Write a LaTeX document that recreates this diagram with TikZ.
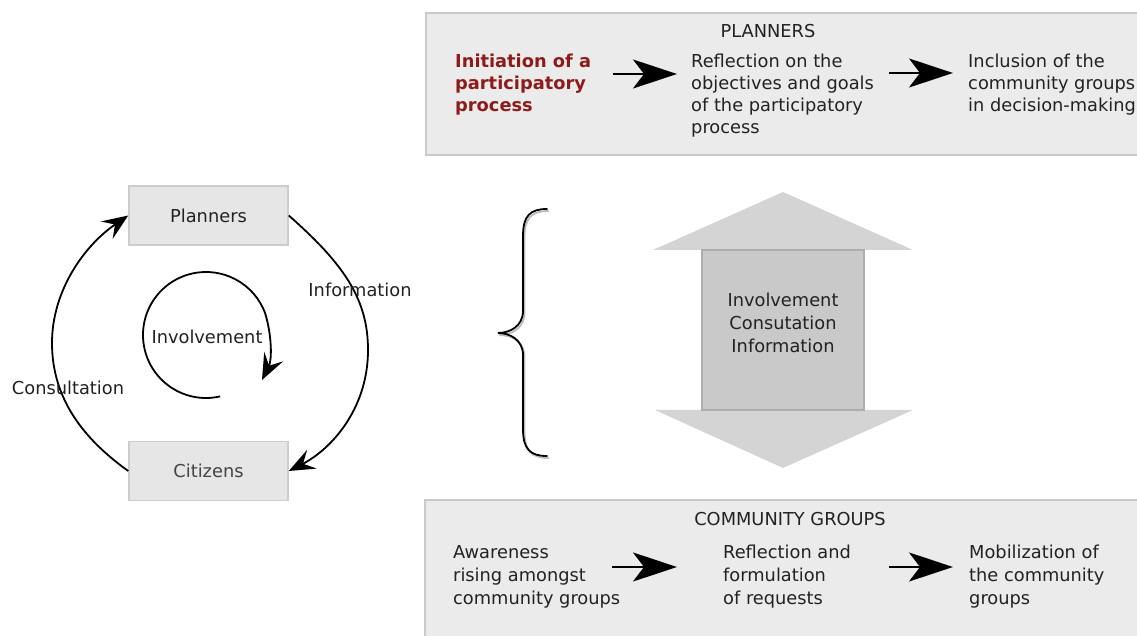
\documentclass[tikz,border=0pt]{standalone}
\usepackage{fontspec}
\setmainfont{DejaVu Sans}
\usetikzlibrary{arrows.meta}
\definecolor{panelfill}{HTML}{EBEBEB}
\definecolor{panelline}{HTML}{C9C9C9}
\definecolor{boxfill}{HTML}{E6E6E6}
\definecolor{boxline}{HTML}{CDCDCD}
\definecolor{txt}{HTML}{222222}
\definecolor{redtxt}{HTML}{8E1B1B}
\definecolor{trifill}{HTML}{D4D4D4}
\definecolor{midfill}{HTML}{C9C9C9}
\definecolor{midline}{HTML}{ADADAD}
\definecolor{shadow}{HTML}{BDBDBD}
\begin{document}
\begin{tikzpicture}[x=1pt,y=1pt,
  every node/.style={inner sep=0pt, text=txt, font=\fontsize{17.8}{22}\selectfont},
  toplines/.style={align=left, anchor=base west, font=\fontsize{17.8}{22}\selectfont},
  botlines/.style={align=left, anchor=base west, font=\fontsize{17.8}{23}\selectfont},
  panel/.style={fill=panelfill, draw=panelline, line width=2pt},
  cbox/.style={fill=boxfill, draw=boxline, line width=1.5pt, minimum width=159pt, minimum height=59pt},
  bigarrow/.style={line width=2pt, -{Stealth[length=44pt,width=29pt,inset=11pt]}},
  carrow/.style={line width=1.8pt, -{Stealth[length=26pt,width=21pt,inset=10pt]}},
  bracestyle/.style={line width=1.8pt, line cap=round}
]
\useasboundingbox (0,0) rectangle (1137,636);
\fill[white] (0,0) rectangle (1137,636);

% top panel
\draw[panel] (426,481) rectangle (1150,623);
\node (ptitle) at (768,605) {PLANNERS};
\node[toplines, text=redtxt, font=\fontsize{17.8}{22}\selectfont\bfseries] (p1) at (455,524) {Initiation of a\\participatory\\process};
\node[toplines] (p2) at (691,502) {Reflection on the\\objectives and goals\\of the participatory\\process};
\node[toplines] (p3) at (968,524) {Inclusion of the\\community groups\\in decision-making};
\coordinate (a1s) at (613,562);
\coordinate (a1e) at (677,562);
\coordinate (a2s) at (889,563);
\coordinate (a2e) at (953,563);
\draw[bigarrow] (a1s) -- (a1e);
\draw[bigarrow] (a2s) -- (a2e);

% bottom panel
\draw[panel] (425,-10) rectangle (1150,136);
\node (ctitle) at (790,117) {COMMUNITY GROUPS};
\node[botlines] (c1) at (453,31) {Awareness\\rising amongst\\community groups};
\node[botlines] (c2) at (723,31) {Reflection and\\formulation\\of requests};
\node[botlines] (c3) at (969,31) {Mobilization of\\the community\\groups};
\coordinate (b1s) at (612,69);
\coordinate (b1e) at (677,69);
\coordinate (b2s) at (889,69);
\coordinate (b2e) at (953,69);
\draw[bigarrow] (b1s) -- (b1e);
\draw[bigarrow] (b2s) -- (b2e);

% cycle
\node[cbox] (plan) at (208.5,420.5) {Planners};
\node[cbox, text=txt!85] (cit) at (208.5,165) {Citizens};
\draw[carrow] (plan.east) .. controls (345,371) and (368,336) .. (368,286)
  .. controls (368,226) and (330,186) .. (cit.east);
\draw[carrow] (cit.west) .. controls (85,196) and (52,236) .. (52,293)
  .. controls (52,346) and (85,391) .. (plan.west);
\node (info) at (360,346) {Information};
\node (cons) at (68,248) {Consultation};
\node (invo) at (207,299) {Involvement};
\coordinate (cc) at (206,301);
\coordinate (invtip) at (262,256);
\draw[carrow] ([shift={(-77:63)}]cc) arc[start angle=-77, end angle=-340, radius=63]
  .. controls (272,300) and (272,276) .. (invtip);

% brace
\draw[bracestyle, shadow] ([shift={(1.5,-2)}]547,427) .. controls ([shift={(1.5,-2)}]530,427) and ([shift={(1.5,-2)}]523,420) .. ([shift={(1.5,-2)}]523,400)
  -- ([shift={(1.5,-2)}]523,325) .. controls ([shift={(1.5,-2)}]523,310) and ([shift={(1.5,-2)}]510,303) .. ([shift={(1.5,-2)}]498,303)
  .. controls ([shift={(1.5,-2)}]510,303) and ([shift={(1.5,-2)}]523,296) .. ([shift={(1.5,-2)}]523,281)
  -- ([shift={(1.5,-2)}]523,207) .. controls ([shift={(1.5,-2)}]523,187) and ([shift={(1.5,-2)}]530,180) .. ([shift={(1.5,-2)}]547,180);
\draw[bracestyle, black] (547,427) .. controls (530,427) and (523,420) .. (523,400)
  -- (523,325) .. controls (523,310) and (510,303) .. (498,303)
  .. controls (510,303) and (523,296) .. (523,281)
  -- (523,207) .. controls (523,187) and (530,180) .. (547,180);

% double arrow
\fill[trifill] (653,386) -- (783,444) -- (913,386) -- cycle;
\fill[trifill] (655,226) -- (913,226) -- (783,168) -- cycle;
\draw[fill=midfill, draw=midline, line width=1.5pt] (702,226) rectangle (864,386);
\node[align=center, font=\fontsize{17.8}{23}\selectfont] (mt) at (783,313) {Involvement\\Consutation\\Information};
\end{tikzpicture}
\end{document}
